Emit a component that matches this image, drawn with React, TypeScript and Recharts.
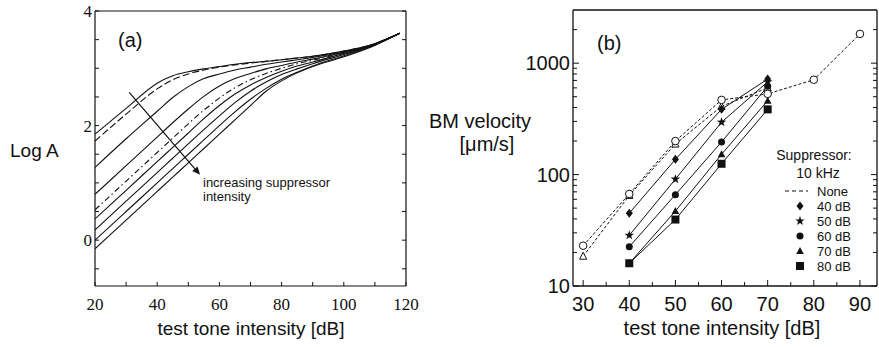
import { LineChart, Line, XAxis, YAxis, ReferenceLine, Legend } from "recharts";

// panel (a): model curves, log amplitude vs test tone level
const modelX = [20, 30, 40, 45, 50, 55, 60, 65, 70, 75, 80, 85, 90, 100, 110, 118];
const curveA1 = [1.85, 2.3, 2.74, 2.87, 2.94, 2.99, 3.03, 3.07, 3.1, 3.12, 3.15, 3.18, 3.21, 3.3, 3.43, 3.61];
const curveA2 = [1.73, 2.2, 2.64, 2.8, 2.9, 2.97, 3.02, 3.06, 3.09, 3.12, 3.15, 3.18, 3.21, 3.3, 3.43, 3.61];
const curveA3 = [1.27, 1.77, 2.25, 2.49, 2.68, 2.82, 2.9, 2.97, 3.02, 3.07, 3.11, 3.15, 3.19, 3.29, 3.43, 3.61];
const curveA4 = [0.8, 1.3, 1.8, 2.05, 2.29, 2.51, 2.69, 2.82, 2.91, 2.99, 3.05, 3.11, 3.16, 3.28, 3.42, 3.61];
const curveA5 = [0.53, 1.03, 1.53, 1.78, 2.03, 2.27, 2.48, 2.66, 2.8, 2.91, 3.0, 3.08, 3.14, 3.27, 3.42, 3.61];
const curveA6 = [0.37, 0.87, 1.37, 1.62, 1.87, 2.12, 2.35, 2.55, 2.71, 2.84, 2.95, 3.04, 3.11, 3.26, 3.42, 3.61];
const curveA7 = [0.18, 0.68, 1.18, 1.43, 1.68, 1.93, 2.17, 2.4, 2.6, 2.76, 2.89, 2.99, 3.08, 3.24, 3.41, 3.61];
const curveA8 = [0.0, 0.5, 1.0, 1.25, 1.5, 1.75, 2.0, 2.24, 2.46, 2.65, 2.81, 2.93, 3.04, 3.22, 3.41, 3.61];
const curveA9 = [-0.15, 0.35, 0.85, 1.1, 1.35, 1.6, 1.85, 2.1, 2.35, 2.6, 2.78, 2.92, 3.03, 3.2, 3.4, 3.61];
const arrowFrom = { x: 31, y: 2.58 };
const arrowTo = { x: 53.8, y: 1.14 };

const aXTicks = [20, 30, 40, 50, 60, 70, 80, 90, 100, 110, 120];
const aXLabels = [20, 40, 60, 80, 100, 120];
const aYTicks = [-0.5, 0, 0.5, 1, 1.5, 2, 2.5, 3, 3.5, 4];
const aYLabels = [0, 2, 4];

// panel (b): measured BM velocity
const noneX = [30, 40, 50, 60, 70, 80, 90];
const noneCircle = [23, 67, 200, 468, 530, 710, 1830];
const noneTriX = [30, 40, 50, 60, 70];
const noneTri = [18.5, 65, 188, 410, 600];
const supX = [40, 50, 60, 70];
const sup40 = [45, 137, 385, 720];
const sup50 = [28.5, 91, 295, 680];
const sup60 = [22.5, 66, 196, 620];
const sup70 = [16, 47, 152, 460];
const sup80 = [16, 39.5, 125, 385];

const bXTicks = [30, 35, 40, 45, 50, 55, 60, 65, 70, 75, 80, 85, 90];
const bXLabels = [30, 40, 50, 60, 70, 80, 90];
const bYTicks = [
  10, 20, 30, 40, 50, 60, 70, 80, 90, 100, 200, 300, 400, 500, 600, 700, 800, 900, 1000, 2000,
];
const bYLabels = [10, 100, 1000];

const SANS = "'Liberation Sans', Arial, sans-serif";
const SERIF = "'Liberation Serif', 'Times New Roman', serif";
const INK = "#111";

const toData = (xs: number[], ys: number[]) => xs.map((x, i) => ({ x, v: ys[i] }));

type Side = "bottom" | "top" | "left" | "right";

function makeTick(
  side: Side,
  labels: number[],
  major: number[],
  majorLen: number,
  minorLen: number,
  font: string,
  size: number,
  offset: number,
) {
  const has = (arr: number[], v: number) => arr.some((m) => Math.abs(m - v) < 1e-6);
  return function Tick(props: any) {
    const { x, y, payload } = props;
    const v = Number(payload.value);
    const len = has(major, v) ? majorLen : minorLen;
    let x2 = x;
    let y2 = y;
    if (side === "bottom") y2 = y - len;
    if (side === "top") y2 = y + len;
    if (side === "left") x2 = x + len;
    if (side === "right") x2 = x - len;
    const show = has(labels, v);
    return (
      <g>
        <line x1={x} y1={y} x2={x2} y2={y2} stroke={INK} strokeWidth={1} />
        {show && side === "bottom" && (
          <text x={x} y={y + offset} textAnchor="middle" fontFamily={font} fontSize={size} fill={INK}>
            {v}
          </text>
        )}
        {show && side === "left" && (
          <text x={x - 3} y={y + offset} textAnchor="end" fontFamily={font} fontSize={size} fill={INK}>
            {v}
          </text>
        )}
      </g>
    );
  };
}

function starPath(cx: number, cy: number, R: number, r: number) {
  let d = "";
  for (let i = 0; i < 10; i++) {
    const ang = -Math.PI / 2 + (i * Math.PI) / 5;
    const rad = i % 2 === 0 ? R : r;
    d += (i === 0 ? "M" : "L") + (cx + rad * Math.cos(ang)).toFixed(2) + "," + (cy + rad * Math.sin(ang)).toFixed(2);
  }
  return d + "Z";
}

function Marker({ kind, cx, cy }: { kind: string; cx: number; cy: number }) {
  switch (kind) {
    case "diamond":
      return <polygon points={`${cx},${cy - 4.5} ${cx + 3.5},${cy} ${cx},${cy + 4.5} ${cx - 3.5},${cy}`} fill={INK} />;
    case "star":
      return <path d={starPath(cx, cy, 5, 2)} fill={INK} />;
    case "circle":
      return <circle cx={cx} cy={cy} r={3.5} fill={INK} />;
    case "triangle":
      return <polygon points={`${cx},${cy - 4} ${cx + 3.8},${cy + 3} ${cx - 3.8},${cy + 3}`} fill={INK} />;
    case "square":
      return <rect x={cx - 4} y={cy - 4} width={8} height={8} fill={INK} />;
    case "openCircle":
      return <circle cx={cx} cy={cy} r={3.8} fill="#fff" stroke={INK} strokeWidth={1} />;
    case "openTriangle":
      return (
        <polygon
          points={`${cx},${cy - 4} ${cx + 3.6},${cy + 3} ${cx - 3.6},${cy + 3}`}
          fill="#fff"
          stroke={INK}
          strokeWidth={1}
        />
      );
    default:
      return null;
  }
}

const dotOf = (kind: string) => (p: any) => <Marker key={`${kind}-${p.index}`} kind={kind} cx={p.cx} cy={p.cy} />;

function Arrow(props: any) {
  const { x1, y1, x2, y2 } = props;
  const ang = Math.atan2(y2 - y1, x2 - x1);
  const L = 8;
  const W = 3.5;
  const bx = x2 - L * Math.cos(ang);
  const by = y2 - L * Math.sin(ang);
  const px = -Math.sin(ang) * W;
  const py = Math.cos(ang) * W;
  return (
    <g>
      <line x1={x1} y1={y1} x2={bx} y2={by} stroke={INK} strokeWidth={1.2} />
      <polygon points={`${x2},${y2} ${bx + px},${by + py} ${bx - px},${by - py}`} fill={INK} />
    </g>
  );
}

function SuppressorLegend() {
  const rows = [
    { kind: "diamond", text: "40 dB" },
    { kind: "star", text: "50 dB" },
    { kind: "circle", text: "60 dB" },
    { kind: "triangle", text: "70 dB" },
    { kind: "square", text: "80 dB" },
  ];
  return (
    <svg width={130} height={140} style={{ display: "block" }}>
      <text x={49} y={20} textAnchor="middle" fontFamily={SANS} fontSize={14} fill={INK}>
        Suppressor:
      </text>
      <text x={53} y={38} textAnchor="middle" fontFamily={SANS} fontSize={14} fill={INK}>
        10 kHz
      </text>
      <line x1={20} y1={51} x2={43} y2={51} stroke={INK} strokeWidth={1.2} strokeDasharray="4 3" />
      <text x={52} y={56} fontFamily={SANS} fontSize={13} fill={INK}>
        None
      </text>
      {rows.map((r, i) => (
        <g key={r.text}>
          <Marker kind={r.kind} cx={35} cy={66 + i * 15} />
          <text x={52} y={71 + i * 15} fontFamily={SANS} fontSize={13} fill={INK}>
            {r.text}
          </text>
        </g>
      ))}
    </svg>
  );
}

const aCurves = [
  { ys: curveA1, dash: undefined },
  { ys: curveA2, dash: "7 3" },
  { ys: curveA3, dash: undefined },
  { ys: curveA4, dash: undefined },
  { ys: curveA5, dash: "6 3 1.5 3" },
  { ys: curveA6, dash: undefined },
  { ys: curveA7, dash: undefined },
  { ys: curveA8, dash: undefined },
  { ys: curveA9, dash: undefined },
];

const bSolid = [
  { ys: sup40, kind: "diamond" },
  { ys: sup50, kind: "star" },
  { ys: sup60, kind: "circle" },
  { ys: sup70, kind: "triangle" },
  { ys: sup80, kind: "square" },
];

export default function App() {
  const axisA = { stroke: INK, strokeWidth: 1.2 };
  const axisB = { stroke: INK, strokeWidth: 1.3 };
  const bare = { interval: 0 as const, tickSize: 0, tickMargin: 0, tickLine: false, allowDataOverflow: true };
  return (
    <div
      style={{
        position: "fixed",
        left: 0,
        top: 0,
        width: 879,
        height: 347,
        overflow: "hidden",
        background: "#fff",
      }}
    >
      <div style={{ position: "absolute", left: 0, top: 0 }}>
        <LineChart width={440} height={347} margin={{ top: 10, right: 33, bottom: 60, left: 94 }}>
          <XAxis
            {...bare}
            type="number"
            dataKey="x"
            domain={[20, 120]}
            ticks={aXTicks}
            height={1}
            axisLine={axisA}
            tick={makeTick("bottom", aXLabels, aXTicks, 4, 4, SERIF, 17, 24)}
          />
          <XAxis
            {...bare}
            xAxisId="top"
            orientation="top"
            type="number"
            domain={[20, 120]}
            ticks={aXTicks}
            height={1}
            axisLine={axisA}
            tick={makeTick("top", [], aXTicks, 4, 4, SERIF, 17, 0)}
          />
          <YAxis
            {...bare}
            type="number"
            domain={[-0.8, 4]}
            ticks={aYTicks}
            width={1}
            axisLine={axisA}
            tick={makeTick("left", aYLabels, aYTicks, 4, 4, SERIF, 17, 6)}
          />
          <YAxis
            {...bare}
            yAxisId="right"
            orientation="right"
            type="number"
            domain={[-0.8, 4]}
            ticks={aYTicks}
            width={1}
            axisLine={axisA}
            tick={makeTick("right", [], aYTicks, 4, 4, SERIF, 17, 0)}
          />
          {aCurves.map((c, i) => (
            <Line
              key={i}
              data={toData(modelX, c.ys)}
              dataKey="v"
              type="monotone"
              stroke={INK}
              strokeWidth={1.1}
              strokeDasharray={c.dash}
              dot={false}
              isAnimationActive={false}
            />
          ))}
          <ReferenceLine segment={[arrowFrom, arrowTo]} shape={Arrow} />
        </LineChart>
      </div>

      <div style={{ position: "absolute", left: 440, top: 0 }}>
        <LineChart width={460} height={347} margin={{ top: 9, right: 22, bottom: 60, left: 132 }}>
          <XAxis
            {...bare}
            type="number"
            dataKey="x"
            domain={[27.8, 93.7]}
            ticks={bXTicks}
            height={1}
            axisLine={axisB}
            tick={makeTick("bottom", bXLabels, bXLabels, 6, 4, SANS, 20, 25)}
          />
          <XAxis
            {...bare}
            xAxisId="top"
            orientation="top"
            type="number"
            domain={[27.8, 93.7]}
            ticks={bXTicks}
            height={1}
            axisLine={axisB}
            tick={makeTick("top", [], bXLabels, 6, 4, SANS, 20, 0)}
          />
          <YAxis
            {...bare}
            type="number"
            scale="log"
            domain={[10, 3000]}
            ticks={bYTicks}
            width={1}
            axisLine={axisB}
            tick={makeTick("left", bYLabels, bYLabels, 6, 4, SANS, 20, 7)}
          />
          <YAxis
            {...bare}
            yAxisId="right"
            orientation="right"
            type="number"
            scale="log"
            domain={[10, 3000]}
            ticks={bYTicks}
            width={1}
            axisLine={axisB}
            tick={makeTick("right", [], bYLabels, 6, 4, SANS, 20, 0)}
          />
          <Line
            data={toData(noneTriX, noneTri)}
            dataKey="v"
            type="linear"
            stroke={INK}
            strokeWidth={1}
            strokeDasharray="3 2"
            dot={dotOf("openTriangle")}
            isAnimationActive={false}
          />
          <Line
            data={toData(noneX, noneCircle)}
            dataKey="v"
            type="linear"
            stroke={INK}
            strokeWidth={1}
            strokeDasharray="3 2"
            dot={dotOf("openCircle")}
            isAnimationActive={false}
          />
          {bSolid.map((s) => (
            <Line
              key={s.kind}
              data={toData(supX, s.ys)}
              dataKey="v"
              type="linear"
              stroke={INK}
              strokeWidth={1}
              dot={dotOf(s.kind)}
              isAnimationActive={false}
            />
          ))}
          <Legend
            layout="horizontal"
            verticalAlign="middle"
            align="center"
            wrapperStyle={{ left: 325, top: 140, width: 130, height: 140 }}
            content={() => <SuppressorLegend />}
          />
        </LineChart>
      </div>

      <svg
        width={879}
        height={347}
        style={{ position: "absolute", left: 0, top: 0, pointerEvents: "none" }}
      >
        <g fontFamily={SANS} fill={INK}>
          <text x={118} y={47} fontSize={20}>
            (a)
          </text>
          <text x={10} y={157} fontSize={19}>
            Log A
          </text>
          <text x={251} y={335} fontSize={19} textAnchor="middle">
            test tone intensity [dB]
          </text>
          <text x={203} y={187} fontSize={13}>
            increasing suppressor
          </text>
          <text x={203} y={201} fontSize={13}>
            intensity
          </text>
          <text x={597} y={50} fontSize={20}>
            (b)
          </text>
          <text x={480} y={128} fontSize={20} textAnchor="middle">
            BM velocity
          </text>
          <text x={487} y={151} fontSize={20} textAnchor="middle">
            [μm/s]
          </text>
          <text x={722} y={335} fontSize={20} textAnchor="middle">
            test tone intensity [dB]
          </text>
        </g>
      </svg>
    </div>
  );
}
